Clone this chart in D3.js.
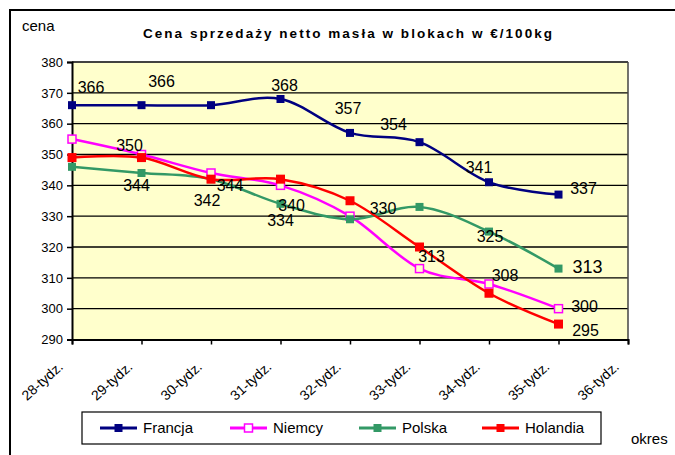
<!DOCTYPE html>
<html><head><meta charset="utf-8">
<script src="https://cdn.jsdelivr.net/npm/d3@7"></script>
<style>body{margin:0;background:#fff}svg{display:block;font-family:Arial,"Liberation Sans",sans-serif}</style>
</head><body>
<script>
const categories = ["28-tydz.","29-tydz.","30-tydz.","31-tydz.","32-tydz.","33-tydz.","34-tydz.","35-tydz.","36-tydz."];
const francja  = [366,366,366,368,357,354,341,337];
const niemcy   = [355,350,344,340,330,313,308,300];
const polska   = [346,344,342,334,329,333,325,313];
const holandia = [349,349,342,342,335,320,305,295];
const yTicks = [290,300,310,320,330,340,350,360,370,380];
const seriesNames = ["Francja","Niemcy","Polska","Holandia"];
const titleText = "Cena sprzedaży netto masła w blokach w €/100kg";

// label visibility / offsets (layout, not data)
const labelOffsets = [
  [[19,-18],[20,-24],null,[4,-14],[-2,-25],[-26,-18],[-10,-15],[25,-6]],
  [null,[-12,-9],[19,12],[11,20],[33,-8],[12,-12],[16,-9],[26,-2]],
  [null,[-5,12],[-4,21],[0,16],null,null,[1,5],[29,-2]],
  [null,null,null,null,null,null,null,[27,6]]
];
const styles = [
  {color:"#000080", fill:"#000080", size:8, width:2.5},
  {color:"#FF00FF", fill:"none", size:8, width:2.5},
  {color:"#339966", fill:"#339966", size:8, width:2.5},
  {color:"#FF0000", fill:"#FF0000", size:9, width:2.5}
];
const data = [francja, niemcy, polska, holandia];

const W = 675, H = 455;
const svg = d3.select("body").append("svg").attr("width", W).attr("height", H);

// outer frame
svg.append("line").attr("x1",9).attr("x2",W).attr("y1",10).attr("y2",10).attr("stroke","#000").attr("stroke-width",2);
svg.append("line").attr("x1",10).attr("x2",10).attr("y1",9).attr("y2",H).attr("stroke","#000").attr("stroke-width",2);

const L = 72, R = 628, T = 62, B = 339.5;
const x = d3.scalePoint().domain(categories).range([L, R]).padding(0);
const y = d3.scaleLinear().domain([290, 380]).range([B, T]);

// plot area
svg.append("rect").attr("x",L).attr("y",T).attr("width",R-L).attr("height",B-T).attr("fill","#FFFFCC");
svg.append("g").selectAll("line").data(yTicks.slice(1)).join("line")
  .attr("x1",L).attr("x2",R).attr("y1",d=>y(d)).attr("y2",d=>y(d))
  .attr("stroke","#000").attr("stroke-width",1.3);
svg.append("line").attr("x1",L).attr("x2",R).attr("y1",T).attr("y2",T).attr("stroke","#444").attr("stroke-width",1.5);
svg.append("line").attr("x1",R).attr("x2",R).attr("y1",T).attr("y2",B).attr("stroke","#444").attr("stroke-width",1.5);

// axes
const yAxis = svg.append("g").attr("transform",`translate(${L},0)`)
  .call(d3.axisLeft(y).tickValues(yTicks).tickSize(5).tickPadding(4).tickFormat(d3.format("d")));
yAxis.select(".domain").attr("stroke","#000").attr("stroke-width",2);
yAxis.selectAll(".tick line").attr("stroke","#000").attr("stroke-width",1.5);
yAxis.selectAll("text").attr("font-size",13).attr("fill","#000").attr("font-family","Arial, 'Liberation Sans', sans-serif");

const xAxis = svg.append("g").attr("transform",`translate(0,${B})`)
  .call(d3.axisBottom(x).tickSize(5).tickFormat(""));
xAxis.select(".domain").attr("stroke","#000").attr("stroke-width",2);
xAxis.selectAll(".tick line").attr("stroke","#000").attr("stroke-width",1.5);

svg.append("g").selectAll("text").data(categories).join("text")
  .attr("transform", d => `translate(${x(d)-8},368) rotate(-42)`)
  .attr("text-anchor","end").attr("font-size",14).attr("fill","#000").text(d=>d);

// lines
const line = d3.line().x((d,i)=>x(categories[i])).y(d=>y(d)).curve(d3.curveCatmullRom.alpha(0));
data.forEach((vals, si) => {
  const st = styles[si];
  const g = svg.append("g");
  g.append("path").attr("d", line(vals)).attr("fill","none").attr("stroke",st.color).attr("stroke-width",st.width);
  g.selectAll("rect").data(vals).join("rect")
    .attr("x",(d,i)=>x(categories[i])-st.size/2).attr("y",d=>y(d)-st.size/2)
    .attr("width",st.size).attr("height",st.size)
    .attr("fill", st.fill==="none" ? "#FFFFCC" : st.fill)
    .attr("stroke", st.color).attr("stroke-width", st.fill==="none" ? 1.5 : 0);
});

// data labels
data.forEach((vals, si) => {
  vals.forEach((v, i) => {
    const o = labelOffsets[si][i];
    if (!o) return;
    svg.append("text").attr("x", x(categories[i]) + o[0]).attr("y", y(v) + o[1])
      .attr("dy","0.36em").attr("text-anchor","middle")
      .attr("font-size", (si===2 && i===7) ? 18 : 16).attr("fill","#000").text(v);
  });
});

// title & axis titles
svg.append("text").attr("x",143).attr("y",38).attr("font-size",13.5).attr("font-weight","bold")
  .attr("textLength",409).attr("lengthAdjust","spacing").attr("fill","#000").text(titleText);
svg.append("text").attr("x",22).attr("y",31).attr("font-size",15).attr("fill","#000").text("cena");
svg.append("text").attr("x",631).attr("y",444).attr("font-size",15).attr("fill","#000").text("okres");

// legend
const lg = svg.append("g");
lg.append("rect").attr("x",82).attr("y",412).attr("width",519).attr("height",32)
  .attr("fill","#fff").attr("stroke","#000").attr("stroke-width",1.2);
const legX = [100, 230, 359, 482];
seriesNames.forEach((n, i) => {
  const st = styles[i];
  const cy = 428;
  lg.append("line").attr("x1",legX[i]).attr("x2",legX[i]+37).attr("y1",cy).attr("y2",cy)
    .attr("stroke",st.color).attr("stroke-width",3);
  lg.append("rect").attr("x",legX[i]+18.5-4).attr("y",cy-4).attr("width",8).attr("height",8)
    .attr("fill", st.fill==="none" ? "#fff" : st.fill).attr("stroke",st.color).attr("stroke-width", st.fill==="none"?1.5:0);
  lg.append("text").attr("x",legX[i]+43).attr("y",cy).attr("dy","0.36em").attr("font-size",15).attr("fill","#000").text(n);
});
</script>
</body></html>
